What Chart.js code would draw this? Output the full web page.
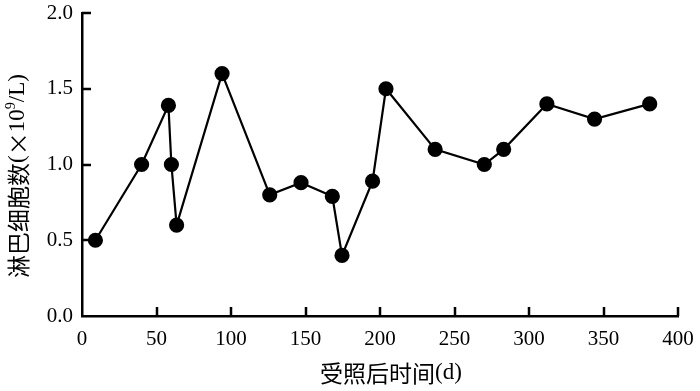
<!DOCTYPE html>
<html>
<head>
<meta charset="utf-8">
<script src="https://cdn.jsdelivr.net/npm/chart.js@4.4.1/dist/chart.umd.min.js"></script>
<style>
  html, body { margin: 0; padding: 0; background: #fff; }
  #wrap { width: 700px; height: 391px; }
</style>
</head>
<body>
<div id="wrap"><canvas id="chart"></canvas></div>
<script>
// 受照后时间(d) 与 淋巴细胞数
const days = [9, 40, 58, 60, 63.5, 94, 126, 147, 168, 174.5, 195, 204, 237, 270, 283, 312, 344, 381];
const lymph = [0.5, 1.0, 1.39, 1.0, 0.6, 1.6, 0.8, 0.88, 0.79, 0.4, 0.89, 1.5, 1.1, 1.0, 1.1, 1.4, 1.3, 1.4];
const xTicks = [0, 50, 100, 150, 200, 250, 300, 350, 400];
const yTicks = [0.0, 0.5, 1.0, 1.5, 2.0];
const xTitle = "受照后时间(d)";
const yTitle = "淋巴细胞数(×10⁹/L)";

const serif = '"Liberation Serif", serif';
const cjk = '"Noto Sans CJK SC", sans-serif';
const fontFam = '"Liberation Serif", "Noto Sans CJK SC", serif';

const points = days.map((d, i) => ({ x: d, y: lymph[i] }));

// 中文用黑体, 其余用衬线体
function runsOf(text, size) {
  const runs = [];
  for (const ch of text) {
    let font, dy = 0;
    if (/[\u4e00-\u9fff×]/.test(ch)) font = size + 'px ' + cjk;
    else if (ch === '⁹') { font = Math.round(size * 0.6) + 'px ' + serif; dy = -size * 0.3; }
    else font = size + 'px ' + serif;
    runs.push({ ch: ch === '⁹' ? '9' : ch, font, dy });
  }
  return runs;
}
function drawRuns(ctx, text, size, cx, cy) {
  const runs = runsOf(text, size);
  let total = 0;
  runs.forEach(r => { ctx.font = r.font; r.w = ctx.measureText(r.ch).width; total += r.w; });
  let x = cx - total / 2;
  ctx.textAlign = 'left';
  ctx.textBaseline = 'middle';
  runs.forEach(r => { ctx.font = r.font; ctx.fillText(r.ch, x, cy + r.dy); x += r.w; });
}

// 内向刻度 + 轴标题
const axisDeco = {
  id: 'axisDeco',
  afterDraw(chart) {
    const ctx = chart.ctx;
    const xs = chart.scales.x, ys = chart.scales.y;
    const area = chart.chartArea;
    ctx.save();
    ctx.strokeStyle = '#000';
    ctx.lineWidth = 2.5;
    ctx.beginPath();
    xTicks.forEach(v => {
      if (v === 0) return;
      const px = Math.round(xs.getPixelForValue(v));
      ctx.moveTo(px, area.bottom);
      ctx.lineTo(px, area.bottom - 9);
    });
    yTicks.forEach(v => {
      if (v === 0) return;
      const py = Math.round(ys.getPixelForValue(v));
      ctx.moveTo(area.left, py);
      ctx.lineTo(area.left + 9, py);
    });
    ctx.stroke();

    ctx.fillStyle = '#000';
    drawRuns(ctx, xTitle, 23, 391, 373);

    ctx.translate(18, 176);
    ctx.rotate(-Math.PI / 2);
    drawRuns(ctx, yTitle, 23, 0, 0);
    ctx.restore();
  }
};

new Chart(document.getElementById('chart'), {
  type: 'scatter',
  data: {
    datasets: [{
      data: points,
      showLine: true,
      borderColor: '#000',
      backgroundColor: '#000',
      borderWidth: 2.2,
      pointRadius: 6.5,
      pointHoverRadius: 6.5,
      tension: 0
    }]
  },
  options: {
    responsive: true,
    maintainAspectRatio: false,
    animation: false,
    clip: false,
    layout: { padding: { top: 13, right: 22, left: 0, bottom: 0 } },
    plugins: {
      legend: { display: false },
      tooltip: { enabled: false }
    },
    scales: {
      x: {
        type: 'linear',
        min: 0,
        max: 400,
        afterBuildTicks: s => { s.ticks = xTicks.map(v => ({ value: v })); },
        afterFit: s => { s.height = 75; s.paddingLeft = 0; s.paddingRight = 0; },
        grid: { display: false, drawTicks: false },
        border: { display: true, color: '#000', width: 2.5 },
        ticks: {
          padding: 11,
          color: '#000',
          font: { family: fontFam, size: 21 },
          callback: v => String(v)
        }
      },
      y: {
        type: 'linear',
        min: 0,
        max: 2,
        afterBuildTicks: s => { s.ticks = yTicks.map(v => ({ value: v })); },
        afterFit: s => { s.width = 82; s.paddingTop = 0; s.paddingBottom = 0; },
        grid: { display: false, drawTicks: false },
        border: { display: true, color: '#000', width: 2.5 },
        ticks: {
          padding: 9,
          color: '#000',
          font: { family: fontFam, size: 21 },
          callback: v => Number(v).toFixed(1)
        }
      }
    }
  },
  plugins: [axisDeco]
});
</script>
</body>
</html>
